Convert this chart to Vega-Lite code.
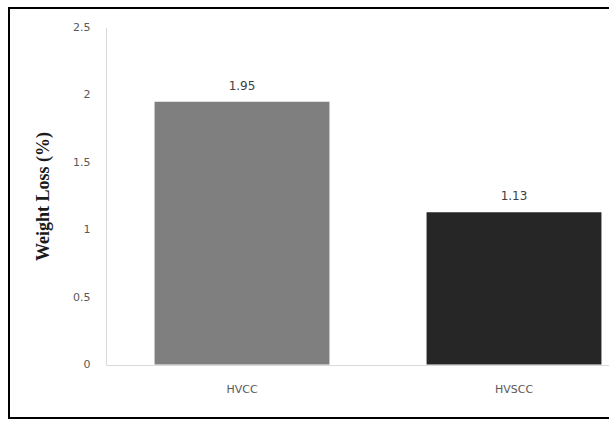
{
  "$schema": "https://vega.github.io/schema/vega-lite/v6.json",
  "width": 600,
  "height": 410,
  "autosize": {"type": "none"},
  "padding": {"left": 9, "top": 8, "right": 0, "bottom": 4},
  "background": "white",
  "config": {
    "view": {"stroke": "#000000", "strokeWidth": 2, "strokeDash": [1610, 410], "strokeDashOffset": 1010},
    "axis": {"grid": false}
  },
  "data": {
    "values": [
      {"Specimen": "HVCC", "WeightLoss": 1.95},
      {"Specimen": "HVSCC", "WeightLoss": 1.13}
    ]
  },
  "encoding": {
    "x": {
      "field": "Specimen",
      "type": "nominal",
      "sort": null,
      "scale": {"range": [97, 641], "paddingInner": 0.357, "paddingOuter": 0.1785},
      "axis": {
        "title": null,
        "labelAngle": 0,
        "domainColor": "#d9d9d9",
        "domainWidth": 1,
        "ticks": false,
        "tickSize": 0,
        "offset": -53,
        "labelPadding": 18,
        "labelFont": "DejaVu Sans",
        "labelFontSize": 11,
        "labelColor": "#595959"
      }
    },
    "y": {
      "field": "WeightLoss",
      "type": "quantitative",
      "scale": {"domain": [0, 2.5], "range": [356.5, 19.5], "nice": false, "zero": true},
      "axis": {
        "title": "Weight Loss (%)",
        "titleFont": "Liberation Serif",
        "titleFontWeight": "bold",
        "titleFontSize": 18,
        "titleColor": "#1a1a1a",
        "titlePadding": 20,
        "values": [0, 0.5, 1, 1.5, 2, 2.5],
        "format": "~g",
        "domainColor": "#d9d9d9",
        "domainWidth": 1,
        "ticks": false,
        "tickSize": 0,
        "offset": -97,
        "labelPadding": 16,
        "labelFont": "DejaVu Sans",
        "labelFontSize": 11,
        "labelColor": "#595959"
      }
    }
  },
  "layer": [
    {
      "mark": {"type": "bar"},
      "encoding": {
        "color": {
          "field": "Specimen",
          "type": "nominal",
          "sort": null,
          "scale": {"range": ["#7f7f7f", "#262626"]},
          "legend": null
        }
      }
    },
    {
      "mark": {
        "type": "text",
        "baseline": "middle",
        "dy": -16,
        "font": "DejaVu Sans",
        "fontSize": 12,
        "color": "#404040"
      },
      "encoding": {
        "text": {"field": "WeightLoss", "type": "quantitative", "format": ".2f"}
      }
    }
  ]
}
